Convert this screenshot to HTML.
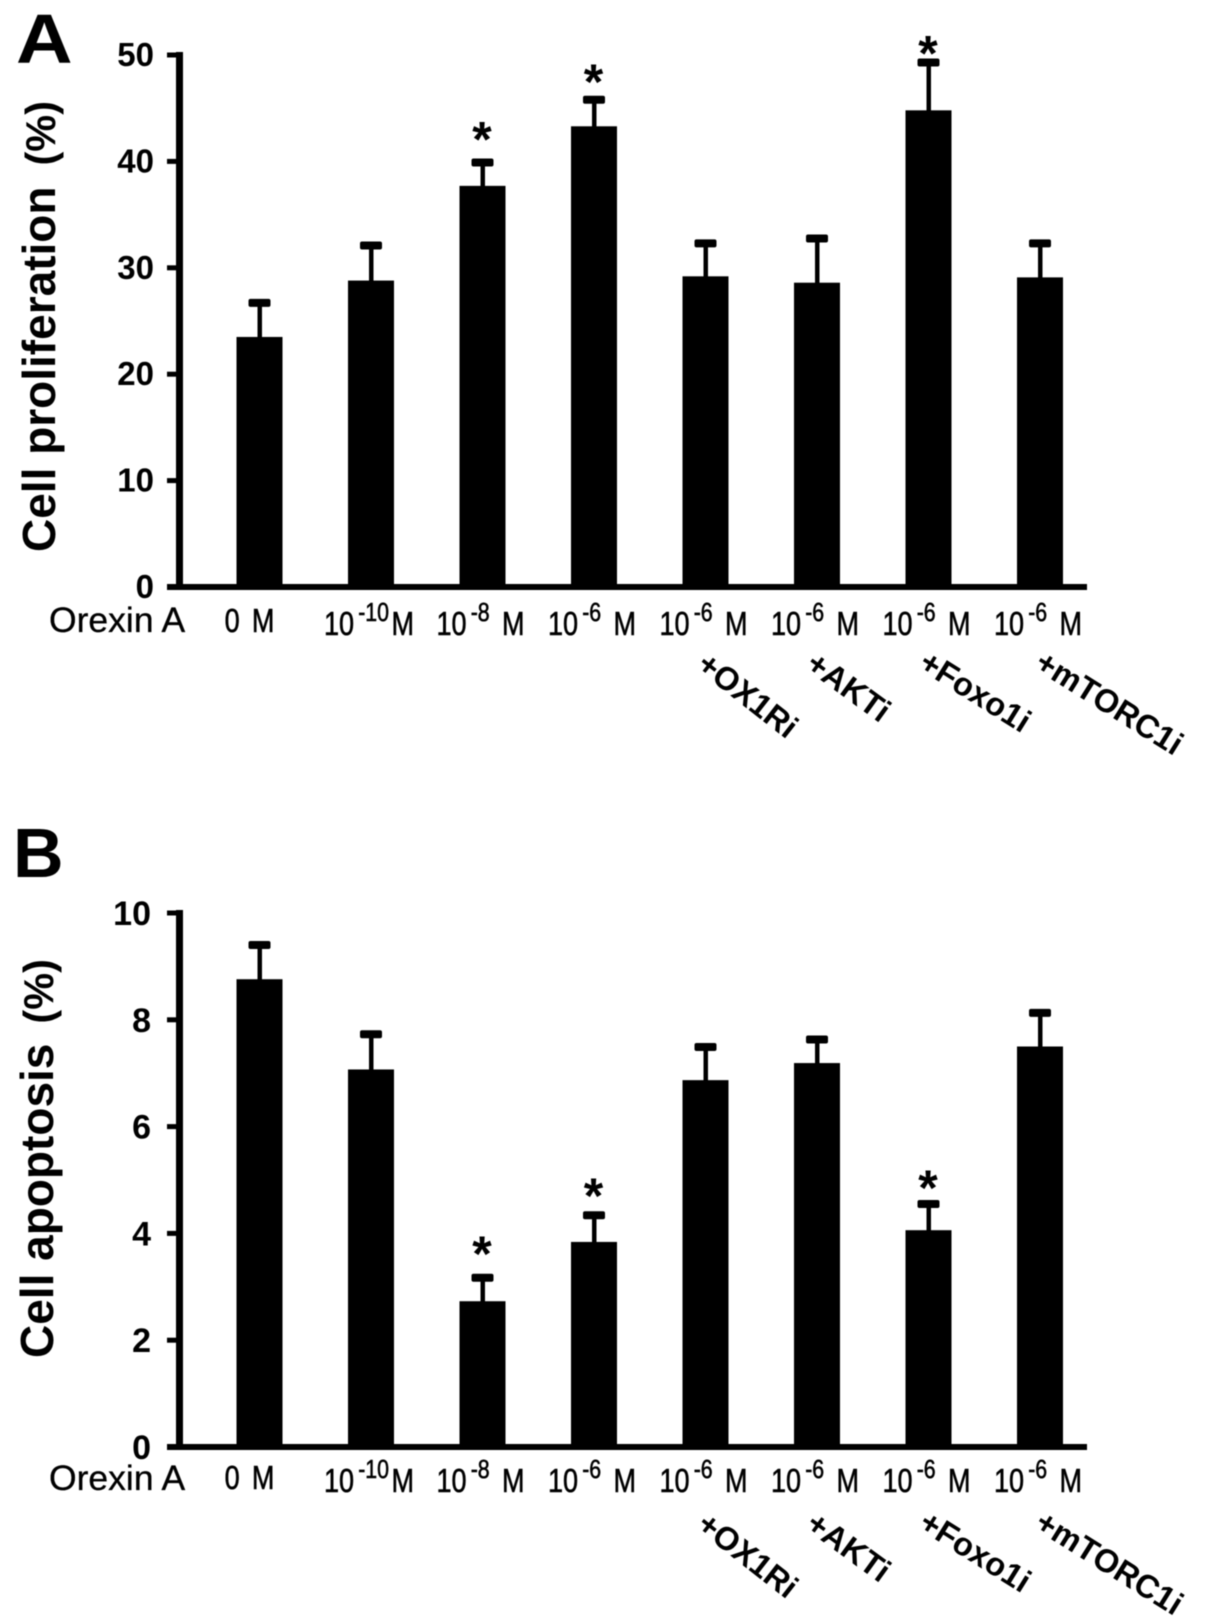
<!DOCTYPE html>
<html lang="en">
<head>
<meta charset="utf-8">
<title>Orexin A: cell proliferation and apoptosis</title>
<style>
  html, body { margin: 0; padding: 0; background: #fff; }
  #figure { display: block; width: 1205px; height: 1624px; background: #fff; filter: blur(0.45px); }
  text { font-family: "Liberation Sans", Arial, sans-serif; fill: #000; }
</style>
</head>
<body>
<svg id="figure" xmlns="http://www.w3.org/2000/svg" width="1205" height="1624" viewBox="0 0 1205 1624"></svg>
<script>
const doseBases = ['0', '10', '10', '10', '10', '10', '10', '10'];
const doseExponents = ['', '-10', '-8', '-6', '-6', '-6', '-6', '-6'];
const treatmentLabels = ['', '', '', '', '+OX1Ri', '+AKTi', '+Foxo1i', '+mTORC1i'];

const proliferationTicks = [0, 10, 20, 30, 40, 50];
const proliferationValues = [23.5, 28.8, 37.7, 43.3, 29.2, 28.6, 44.8, 29.1];
const proliferationErrors = [3.2, 3.3, 2.2, 2.5, 3.1, 4.15, 4.5, 3.2];
const proliferationStarLift = [null, null, 2.9, 2.4, null, null, 1.6, null];

const apoptosisTicks = [0, 2, 4, 6, 8, 10];
const apoptosisValues = [8.76, 7.07, 2.73, 3.84, 6.87, 7.19, 4.06, 7.5];
const apoptosisErrors = [0.64, 0.66, 0.44, 0.5, 0.62, 0.44, 0.49, 0.63];
const apoptosisStarLift = [null, null, 0.59, 0.51, null, null, 0.45, null];

const svg = document.getElementById('figure');
const NS = 'http://www.w3.org/2000/svg';

function make(tag, parent, props, text) {
  const el = document.createElementNS(NS, tag);
  for (const k in props) el.setAttribute(k, props[k]);
  if (text !== undefined) el.textContent = text;
  parent.appendChild(el);
  return el;
}

function xScale(i) { return 259.5 + 111.5 * i; }

function drawPanel(cfg) {
  const yScale = v => cfg.yZero - (v / cfg.yMax) * (cfg.yZero - cfg.yTop);

  const panel = make('g', svg, {});
  
  

  const letter = make('text', panel, {
    transform: 'translate(' + cfg.letterX + ',' + cfg.letterY + ') scale(' + cfg.letterStretch + ',1)',
    'font-size': 70, 'font-weight': 700
  }, cfg.letter);
  
  

  const title = make('text', panel, {
    transform: 'translate(' + cfg.titleX + ',' + cfg.titleY + ') rotate(-90)',
    'font-weight': 700
  });
  
  
  make('tspan', title, { 'font-size': 46 }, cfg.title);
  make('tspan', title, { 'font-size': 41.5, dx: cfg.titleGap }, '(%)');

  const yAxis = make('rect', panel, { x: 176, y: cfg.yTop - 3, width: 7, height: cfg.yZero - cfg.yTop + 6, fill: '#000' });
  
  

  cfg.ticks.forEach(t => {
    const y = yScale(t);
    const tick = make('rect', panel, { x: 167, y: y - 2.5, width: 10, height: 5, fill: '#000' });
    
    
    const label = make('text', panel, {
      x: cfg.tickLabelX, y: y + cfg.tickBaseline, 'font-size': cfg.tickSize,
      'font-weight': 700, 'text-anchor': 'end'
    }, String(t));
    
    
  });

  cfg.values.forEach((v, i) => {
    const cx = xScale(i);
    const top = yScale(v);
    const capY = yScale(v + cfg.errors[i]);

    const stem = make('rect', panel, { x: cx - 2, y: capY, width: 4.5, height: top - capY + 1, fill: '#000' });
    
    

    const cap = make('rect', panel, { x: cx - 11, y: capY - 4, width: 22, height: 8, rx: 2, fill: '#000' });
    
    

    const bar = make('rect', panel, { x: cx - 23, y: top, width: 46, height: cfg.yZero - top, fill: '#000' });
    
    

    if (cfg.starLift[i] !== null) {
      const starY = yScale(v + cfg.errors[i] + cfg.starLift[i]);
      const star = make('text', panel, {
        x: cx - 0.5, y: starY + 25, 'font-size': 50, 'font-weight': 700, 'text-anchor': 'middle'
      }, '*');
      
      
    }

    const nudge = i === 0 ? -10 : -2;
    const base = cfg.labelY + (i === 0 ? -3 : 0);
    const dose = make('text', panel, {
      transform: 'translate(' + (cx + nudge) + ',' + base + ') scale(0.82,1)',
      'font-size': 33, 'text-anchor': 'middle', stroke: '#000', 'stroke-width': 0.6
    });
    
    
    make('tspan', dose, {}, doseBases[i]);
    if (doseExponents[i]) {
      make('tspan', dose, { dx: 5, dy: -14, 'font-size': 26 }, doseExponents[i]);
      make('tspan', dose, { dx: doseExponents[i] === '-10' ? 3 : 15, dy: 14 }, 'M');
    } else {
      make('tspan', dose, { dx: 15 }, 'M');
    }

    if (treatmentLabels[i]) {
      const rotation = [38, 36, 32, 32][i - 4];
      const startX = [695, 804, 917, 1033][i - 4];
      const t = make('text', panel, {
        transform: 'translate(' + startX + ',' + cfg.treatY + ') rotate(' + rotation + ')',
        'font-size': 32.5, 'font-weight': 700
      }, treatmentLabels[i]);
      
      
    }
  });

  const xAxis = make('rect', panel, { x: 167, y: cfg.yZero - 3, width: 920, height: 6, fill: '#000' });
  
  

  const orexin = make('text', panel, { x: 49, y: cfg.orexinY, 'font-size': 35.5, stroke: '#000', 'stroke-width': 0.3 }, 'Orexin A');
  
  
}

drawPanel({
  key: 'proliferation', letter: 'A', letterX: 16, letterY: 63, letterStretch: 1.12,
  title: 'Cell proliferation', titleGap: 21, titleX: 55, titleY: 552,
  yZero: 587, yTop: 55, yMax: 50,
  ticks: proliferationTicks, values: proliferationValues, errors: proliferationErrors, starLift: proliferationStarLift,
  tickLabelX: 154, tickBaseline: 11, tickSize: 33,
  labelY: 635, orexinY: 632, treatY: 668
});

drawPanel({
  key: 'apoptosis', letter: 'B', letterX: 13, letterY: 877, letterStretch: 1,
  title: 'Cell apoptosis', titleGap: 20, titleX: 53, titleY: 1358,
  yZero: 1447, yTop: 913, yMax: 10,
  ticks: apoptosisTicks, values: apoptosisValues, errors: apoptosisErrors, starLift: apoptosisStarLift,
  tickLabelX: 151, tickBaseline: 12, tickSize: 34,
  labelY: 1492, orexinY: 1490, treatY: 1528
});
</script>
</body>
</html>
